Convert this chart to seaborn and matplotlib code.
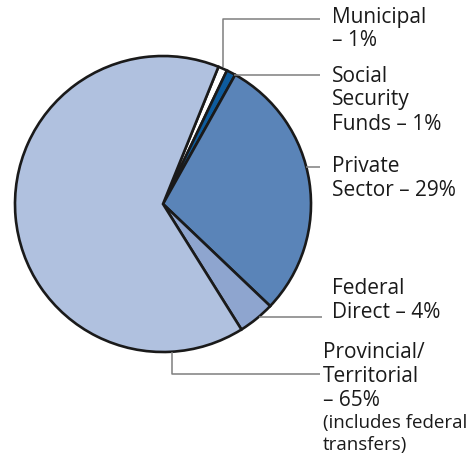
import matplotlib
matplotlib.use("Agg")
import matplotlib.pyplot as plt
import seaborn as sns

# Funding sources, clockwise from the top
sources = ["Municipal", "Social Security Funds", "Private Sector",
           "Federal Direct", "Provincial/Territorial"]
shares = [1, 1, 29, 4, 65]
colors = ["#FFFFFF", "#0E5C9E", "#5A84B8", "#8EA5CF", "#B0C1DF"]

label_lines = [
    ["Municipal", "– 1%"],
    ["Social", "Security", "Funds – 1%"],
    ["Private", "Sector – 29%"],
    ["Federal", "Direct – 4%"],
    ["Provincial/", "Territorial", "– 65%"],
]
note_lines = ["(includes federal", "transfers)"]

sns.set_theme(style="white")
plt.rcParams["font.family"] = ["Open Sans", "DejaVu Sans"]

W, H = 470, 454
fig = plt.figure(figsize=(W / 100, H / 100), dpi=100)
ax = fig.add_axes([0, 0, 1, 1])

cx, cy, r = 163, H - 204, 148
ax.pie(shares, colors=colors, center=(cx, cy), radius=r,
       startangle=68, counterclock=False,
       wedgeprops=dict(edgecolor="#1a1a1a", linewidth=1.9),
       frame=True)
ax.set_xlim(0, W)
ax.set_ylim(0, H)
ax.set_aspect("equal")
ax.axis("off")

# Leader lines (pixel coordinates measured from the top edge)
lead = dict(color="#7f7f7f", lw=1.1, solid_capstyle="butt")
def seg(xs, ys):
    ax.plot(xs, [H - y for y in ys], **lead)

seg([223, 223, 320], [67, 19, 19])
seg([234, 320], [75, 75])
seg([306, 320], [167, 167])
seg([259, 322], [317, 317])
seg([172, 172, 320], [352, 374, 374])

# Category labels
label_pos = [(332, 17), (332, 76), (332, 167), (332, 289), (323, 352)]
step = 24
fs = 15
for lines, (x, y0) in zip(label_lines, label_pos):
    for i, line in enumerate(lines):
        ax.text(x, H - (y0 + i * step), line, fontsize=fs,
                color="#1a1a1a", ha="left", va="center")

for i, line in enumerate(note_lines):
    ax.text(323, H - (423 + i * 22), line, fontsize=13.5,
            color="#1a1a1a", ha="left", va="center")

fig.savefig("out.png", dpi=100, facecolor="white")
